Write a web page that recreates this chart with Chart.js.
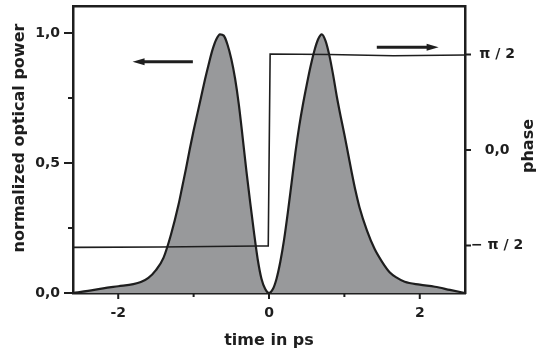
<!DOCTYPE html>
<html>
<head>
<meta charset="utf-8">
<script src="https://cdn.jsdelivr.net/npm/chart.js@4"></script>
<style>
    html, body { margin: 0; padding: 0; background: #fff; }
    #box { width: 537px; height: 354px; }
</style>
</head>
<body>
<div id="box"><canvas id="grafico"></canvas></div>
<script>
// --- data ---
const timePs = [
    -2.6, -2.4, -2.2, -2.0, -1.8, -1.7, -1.6, -1.5, -1.4, -1.3, -1.2, -1.15, -1.1, -1.05,
    -1.0, -0.95, -0.9, -0.85, -0.8, -0.75, -0.7, -0.65, -0.6, -0.55, -0.5, -0.45, -0.4,
    -0.35, -0.3, -0.25, -0.2, -0.15, -0.1, -0.05, 0,
    0.05, 0.1, 0.15, 0.2, 0.25, 0.3, 0.35, 0.4, 0.45, 0.5, 0.55, 0.6, 0.65, 0.7, 0.75,
    0.8, 0.85, 0.9, 0.95, 1.0, 1.05, 1.1, 1.15, 1.2, 1.3, 1.4, 1.5, 1.6, 1.7, 1.8, 2.0,
    2.2, 2.4, 2.6
];
const powerNorm = [
    0.0, 0.008, 0.018, 0.026, 0.034, 0.042, 0.058, 0.088, 0.135, 0.225, 0.34, 0.41, 0.48, 0.555,
    0.625, 0.69, 0.755, 0.82, 0.88, 0.935, 0.975, 0.995, 0.99, 0.955, 0.9, 0.825, 0.725,
    0.6, 0.47, 0.35, 0.235, 0.13, 0.055, 0.015, 0.0,
    0.014, 0.055, 0.12, 0.205, 0.31, 0.425, 0.54, 0.64, 0.725, 0.8, 0.87, 0.93, 0.975, 0.995, 0.97,
    0.915, 0.84, 0.755, 0.68, 0.61, 0.535, 0.46, 0.39, 0.33, 0.24, 0.17, 0.12, 0.08, 0.058, 0.043, 0.032,
    0.024, 0.012, 0.0
];
const phaseTime = [-2.6, -1.44, -0.15, -0.01, 0.015, 0.8, 1.65, 2.6];
const phaseRad  = [-1.602, -1.595, -1.579, -1.578, 1.579, 1.572, 1.551, 1.563];

const timeTicks = [-2, -1, 0, 1, 2];
const timeLabels = ['-2', '', '0', '', '2'];
const powerTicks = [0, 0.25, 0.5, 0.75, 1.0];
const powerLabels = ['0,0', '', '0,5', '', '1,0'];
const phaseTicks = [-Math.PI / 2, 0, Math.PI / 2];
const phaseLabels = ['\u2212 \u03c0 / 2', '0,0', '\u03c0 / 2'];

// arrows pointing to the axis each curve belongs to (data units)
const arrowPower = { from: -1.01, to: -1.81, value: 0.89, axis: 'y' };
const arrowPhase = { from: 1.43, to: 2.25, value: 1.689, axis: 'phase' };

const cor = '#1e1e1e';
const fonte = 'DejaVu Sans';

// tick marks (major longer than minor), drawn through the scales
const marcas = {
    id: 'marcas',
    afterDraw(chart) {
        const ctx = chart.ctx;
        const a = chart.chartArea;
        const sx = chart.scales.x, sy = chart.scales.y, sp = chart.scales.phase;
        ctx.save();
        ctx.strokeStyle = cor;
        ctx.lineWidth = 2;
        ctx.beginPath();
        timeTicks.forEach((v, i) => {
            const px = sx.getPixelForValue(v);
            const len = timeLabels[i] ? 6 : 4;
            ctx.moveTo(px, a.bottom); ctx.lineTo(px, a.bottom + len);
        });
        powerTicks.forEach((v, i) => {
            const py = sy.getPixelForValue(v);
            const len = powerLabels[i] ? 9 : 5;
            ctx.moveTo(a.left - len, py); ctx.lineTo(a.left, py);
        });
        phaseTicks.forEach(v => {
            const py = sp.getPixelForValue(v);
            ctx.moveTo(a.right, py); ctx.lineTo(a.right + 6, py);
        });
        ctx.stroke();

        // arrows
        [arrowPower, arrowPhase].forEach(ar => {
            const y = chart.scales[ar.axis].getPixelForValue(ar.value);
            const x0 = sx.getPixelForValue(ar.from);
            const x1 = sx.getPixelForValue(ar.to);
            const dir = x1 > x0 ? 1 : -1;
            ctx.lineWidth = 3;
            ctx.beginPath();
            ctx.moveTo(x0, y); ctx.lineTo(x1 - dir * 8, y);
            ctx.stroke();
            ctx.fillStyle = cor;
            ctx.beginPath();
            ctx.moveTo(x1, y);
            ctx.lineTo(x1 - dir * 12, y - 3.5);
            ctx.lineTo(x1 - dir * 12, y + 3.5);
            ctx.closePath();
            ctx.fill();
        });

        // axis titles
        ctx.fillStyle = cor;
        ctx.font = 'bold 16px "' + fonte + '"';
        ctx.textAlign = 'center';
        ctx.textBaseline = 'middle';
        ctx.fillText('time in ps', (a.left + a.right) / 2, 341);
        ctx.save();
        ctx.translate(20, 138);
        ctx.rotate(-Math.PI / 2);
        ctx.fillText('normalized optical power', 0, 0);
        ctx.restore();
        ctx.save();
        ctx.translate(529, 146);
        ctx.rotate(-Math.PI / 2);
        ctx.fillText('phase', 0, 0);
        ctx.restore();
        ctx.restore();
    }
};

const eixoBase = {
    grid: { drawOnChartArea: false, drawTicks: false },
    border: { display: true, width: 2.5, color: cor }
};

// fixed axis sizes, no extra room for half-labels
const fixo = (w, h) => s => {
    if (w !== null) s.width = w;
    if (h !== null) s.height = h;
    s.paddingTop = 0; s.paddingBottom = 0; s.paddingLeft = 0; s.paddingRight = 0;
};

new Chart(document.getElementById('grafico'), {
    type: 'line',
    data: {
        datasets: [
            {
                label: 'phase',
                data: phaseTime.map((t, i) => ({ x: t, y: phaseRad[i] })),
                yAxisID: 'phase',
                borderColor: cor,
                borderWidth: 1.6,
                pointRadius: 0,
                fill: false,
                tension: 0,
                order: 0
            },
            {
                label: 'power',
                data: timePs.map((t, i) => ({ x: t, y: powerNorm[i] })),
                yAxisID: 'y',
                borderColor: cor,
                borderWidth: 2.2,
                backgroundColor: '#98999b',
                pointRadius: 0,
                fill: 'origin',
                cubicInterpolationMode: 'monotone',
                order: 1
            }
        ]
    },
    options: {
        responsive: true,
        maintainAspectRatio: false,
        animation: false,
        layout: { padding: 0 },
        plugins: { legend: { display: false }, tooltip: { enabled: false } },
        scales: {
            x: {
                ...eixoBase,
                type: 'linear',
                position: 'bottom',
                min: -2.6,
                max: 2.6,
                afterBuildTicks: s => { s.ticks = timeTicks.map(v => ({ value: v })); },
                afterFit: fixo(null, 61),
                ticks: {
                    padding: 12,
                    color: cor,
                    font: { family: fonte, size: 14, weight: 'bold' },
                    maxRotation: 0,
                    autoSkip: false,
                    callback: (v, i) => timeLabels[i]
                }
            },
            xTop: {
                ...eixoBase,
                type: 'linear',
                position: 'top',
                ticks: { display: false },
                afterFit: fixo(null, 6)
            },
            y: {
                ...eixoBase,
                position: 'left',
                min: 0,
                max: 1.104,
                afterBuildTicks: s => { s.ticks = powerTicks.map(v => ({ value: v })); },
                afterFit: fixo(73, null),
                ticks: {
                    padding: 13,
                    color: cor,
                    font: { family: fonte, size: 14, weight: 'bold' },
                    autoSkip: false,
                    callback: (v, i) => powerLabels[i]
                }
            },
            phase: {
                ...eixoBase,
                position: 'right',
                min: -2.352,
                max: 2.369,
                afterBuildTicks: s => { s.ticks = phaseTicks.map(v => ({ value: v })); },
                afterFit: fixo(72, null),
                ticks: {
                    padding: 6,
                    crossAlign: 'center',
                    color: cor,
                    font: { family: fonte, size: 14, weight: 'bold' },
                    autoSkip: false,
                    callback: (v, i) => phaseLabels[i]
                }
            }
        }
    },
    plugins: [marcas]
});
</script>
</body>
</html>
